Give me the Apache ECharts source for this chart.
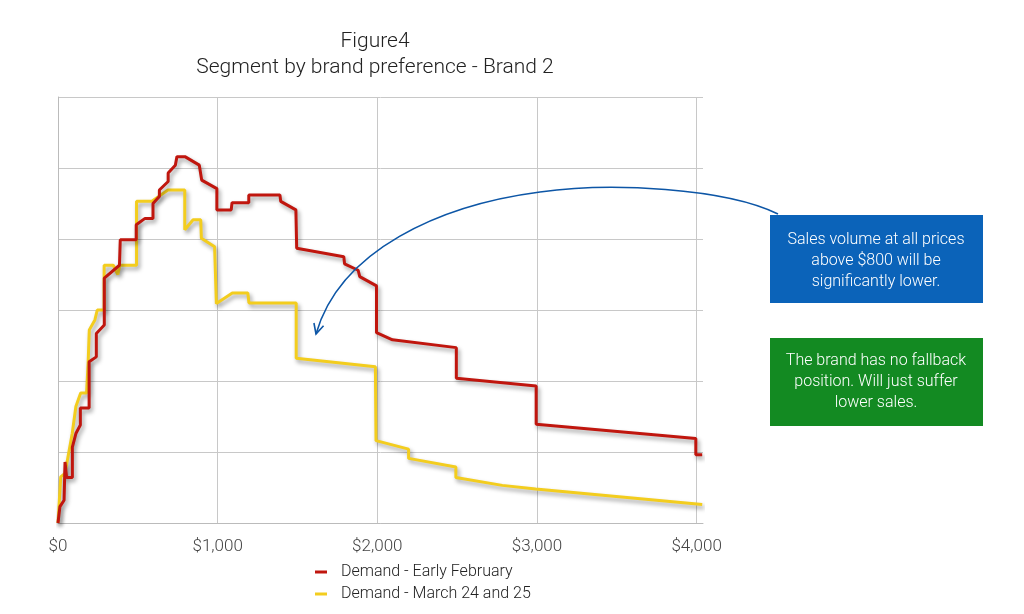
<!DOCTYPE html>
<html>
<head>
<meta charset="utf-8">
<script src="https://cdn.jsdelivr.net/npm/echarts@6/dist/echarts.min.js"></script>
<style>
  html, body { margin: 0; padding: 0; background: #fff; }
  #chart { width: 1024px; height: 614px; }
</style>
</head>
<body>
<div id="chart"></div>
<script>
// price ($) and demand (relative units, 10 per gridline)
var febPrice = [0, 12, 38, 44, 54, 54, 90, 90, 112, 140, 140, 195, 195, 240, 240, 290, 290, 385, 390, 490, 490, 545, 595, 595,
    635, 635, 690, 690, 735, 745, 795, 885, 900, 995, 995, 1085, 1090, 1195, 1195, 1390, 1395, 1490, 1495, 1790, 1795,
    1880, 1890, 1995, 1995, 2095, 2495, 2495, 2995, 2995, 3995, 3995, 4035];
var febDemand = [0, 2.3, 3.2, 8.6, 8.6, 6.4, 6.4, 10.7, 12.6, 13.8, 16.2, 16.2, 22.7, 23.4, 26.7, 27.9, 34.5, 36.3, 39.9, 39.9,
    42.0, 42.9, 42.9, 45.0, 46.0, 46.9, 48.1, 49.3, 50.4, 51.6, 51.6, 50.4, 48.3, 47.1, 44.1, 44.1, 45.1, 45.1, 46.2,
    46.2, 45.3, 44.1, 38.7, 37.5, 36.5, 35.6, 34.7, 33.4, 26.8, 25.8, 24.7, 20.4, 19.3, 13.9, 11.9, 9.6, 9.6];

var marPrice = [0, 17, 44, 89, 112, 142, 179, 189, 196, 231, 246, 289, 289, 346, 375, 387, 492, 492, 586, 689, 794, 794,
    846, 894, 898, 981, 992, 1092, 1189, 1196, 1492, 1492, 1988, 1992, 2196, 2196, 2492, 2492, 2783, 2992, 4035];
var marDemand = [0, 6.5, 7.0, 12.6, 16.4, 18.3, 18.3, 22.7, 27.2, 28.6, 30.0, 30.0, 36.3, 36.3, 35.0, 36.3, 36.3, 45.3,
    45.3, 46.9, 46.9, 41.3, 42.7, 42.7, 40.1, 38.9, 30.9, 32.4, 32.4, 31.0, 31.0, 23.2, 22.0, 11.6, 10.4, 9.1, 7.9,
    6.4, 5.3, 4.8, 2.6];

var xTicks = [0, 1000, 2000, 3000, 4000];
var seriesNames = ['Demand - Early February', 'Demand - March 24 and 25'];

function pairs(xs, ys) {
    var out = [];
    for (var i = 0; i < xs.length; i++) out.push([xs[i], ys[i]]);
    return out;
}

var FONT = 'Roboto';
var chart = echarts.init(document.getElementById('chart'));

var shadow = { shadowColor: 'rgba(0,0,0,0.38)', shadowBlur: 4, shadowOffsetX: 2, shadowOffsetY: 3 };

// annotation arrow, from the blue box back into the chart (two bezier pieces)
var arrowStyle = { stroke: '#0d56a6', lineWidth: 1.6, fill: null };
var tip = [316, 334], prev = [340, 250];
var dx = tip[0] - prev[0], dy = tip[1] - prev[1], len = Math.sqrt(dx * dx + dy * dy);
var ux = dx / len, uy = dy / len, hl = 10, hw = 5;
var headA = [tip[0] - ux * hl - uy * hw, tip[1] - uy * hl + ux * hw];
var headB = [tip[0] - ux * hl + uy * hw, tip[1] - uy * hl - ux * hw];

var option = {
    animation: false,
    title: {
        text: 'Figure4\nSegment by brand preference - Brand 2',
        left: 375, top: 29, textAlign: 'center', padding: 0,
        textStyle: { fontFamily: FONT, fontWeight: 300, fontSize: 21, color: '#222', lineHeight: 26 }
    },
    legend: {
        data: seriesNames,
        orient: 'vertical',
        left: 310, top: 559,
        itemWidth: 12, itemHeight: 3, itemGap: 6,
        icon: 'rect',
        textStyle: { fontFamily: FONT, fontWeight: 300, fontSize: 16, color: '#222', padding: [0, 0, 0, 9] }
    },
    grid: { left: 58, right: 321, top: 97, bottom: 91, containLabel: false },
    xAxis: {
        type: 'value', min: 0, max: 4040, interval: 1000,
        axisLine: { show: true, lineStyle: { color: '#bbb' } },
        axisTick: { show: false },
        splitLine: { show: true, showMaxLine: false, lineStyle: { color: '#c8c8c8' } },
        axisLabel: {
            margin: 15, color: '#444', fontFamily: FONT, fontWeight: 300, fontSize: 17, showMaxLabel: false,
            formatter: function (v) {
                return xTicks.indexOf(v) >= 0 ? '$' + v.toLocaleString('en-US') : '';
            }
        }
    },
    yAxis: {
        type: 'value', min: 0, max: 60, interval: 10,
        axisLine: { show: true, lineStyle: { color: '#bbb' } },
        axisTick: { show: false },
        axisLabel: { show: false },
        splitLine: { show: true, lineStyle: { color: '#c8c8c8' } }
    },
    series: [
        {
            name: seriesNames[0], type: 'line', data: pairs(febPrice, febDemand),
            showSymbol: false, clip: false, color: '#c0160e', z: 3,
            lineStyle: Object.assign({ width: 3, color: '#c0160e' }, shadow)
        },
        {
            name: seriesNames[1], type: 'line', data: pairs(marPrice, marDemand),
            showSymbol: false, clip: false, color: '#f3cd1e', z: 2,
            lineStyle: Object.assign({ width: 3, color: '#f3cd1e' }, shadow)
        }
    ],
    graphic: [
        {
            type: 'bezierCurve', z: 10,
            shape: { x1: 778, y1: 214, cpx1: 725, cpy1: 188, cpx2: 610, cpy2: 182, x2: 540, y2: 192 },
            style: arrowStyle
        },
        {
            type: 'bezierCurve', z: 10,
            shape: { x1: 540, y1: 192, cpx1: 440, cpy1: 205, cpx2: 340, cpy2: 250, x2: 316, y2: 334 },
            style: arrowStyle
        },
        {
            type: 'polyline', z: 10,
            shape: { points: [headA, tip, headB] },
            style: arrowStyle
        },
        {
            type: 'rect', z: 11,
            shape: { x: 770, y: 215, width: 213, height: 88 },
            style: { fill: '#0b63b9' }
        },
        {
            type: 'text', z: 12, x: 876, y: 261,
            style: {
                text: 'Sales volume at all prices\nabove $800 will be\nsignificantly lower.',
                fill: '#fff', fontFamily: FONT, fontWeight: 300, fontSize: 16, lineHeight: 21,
                align: 'center', verticalAlign: 'middle'
            }
        },
        {
            type: 'rect', z: 11,
            shape: { x: 770, y: 338, width: 213, height: 88 },
            style: { fill: '#138a22' }
        },
        {
            type: 'text', z: 12, x: 876, y: 382,
            style: {
                text: 'The brand has no fallback\nposition. Will just suffer\nlower sales.',
                fill: '#fff', fontFamily: FONT, fontWeight: 300, fontSize: 16, lineHeight: 21,
                align: 'center', verticalAlign: 'middle'
            }
        }
    ]
};

option && chart.setOption(option);
</script>
</body>
</html>
